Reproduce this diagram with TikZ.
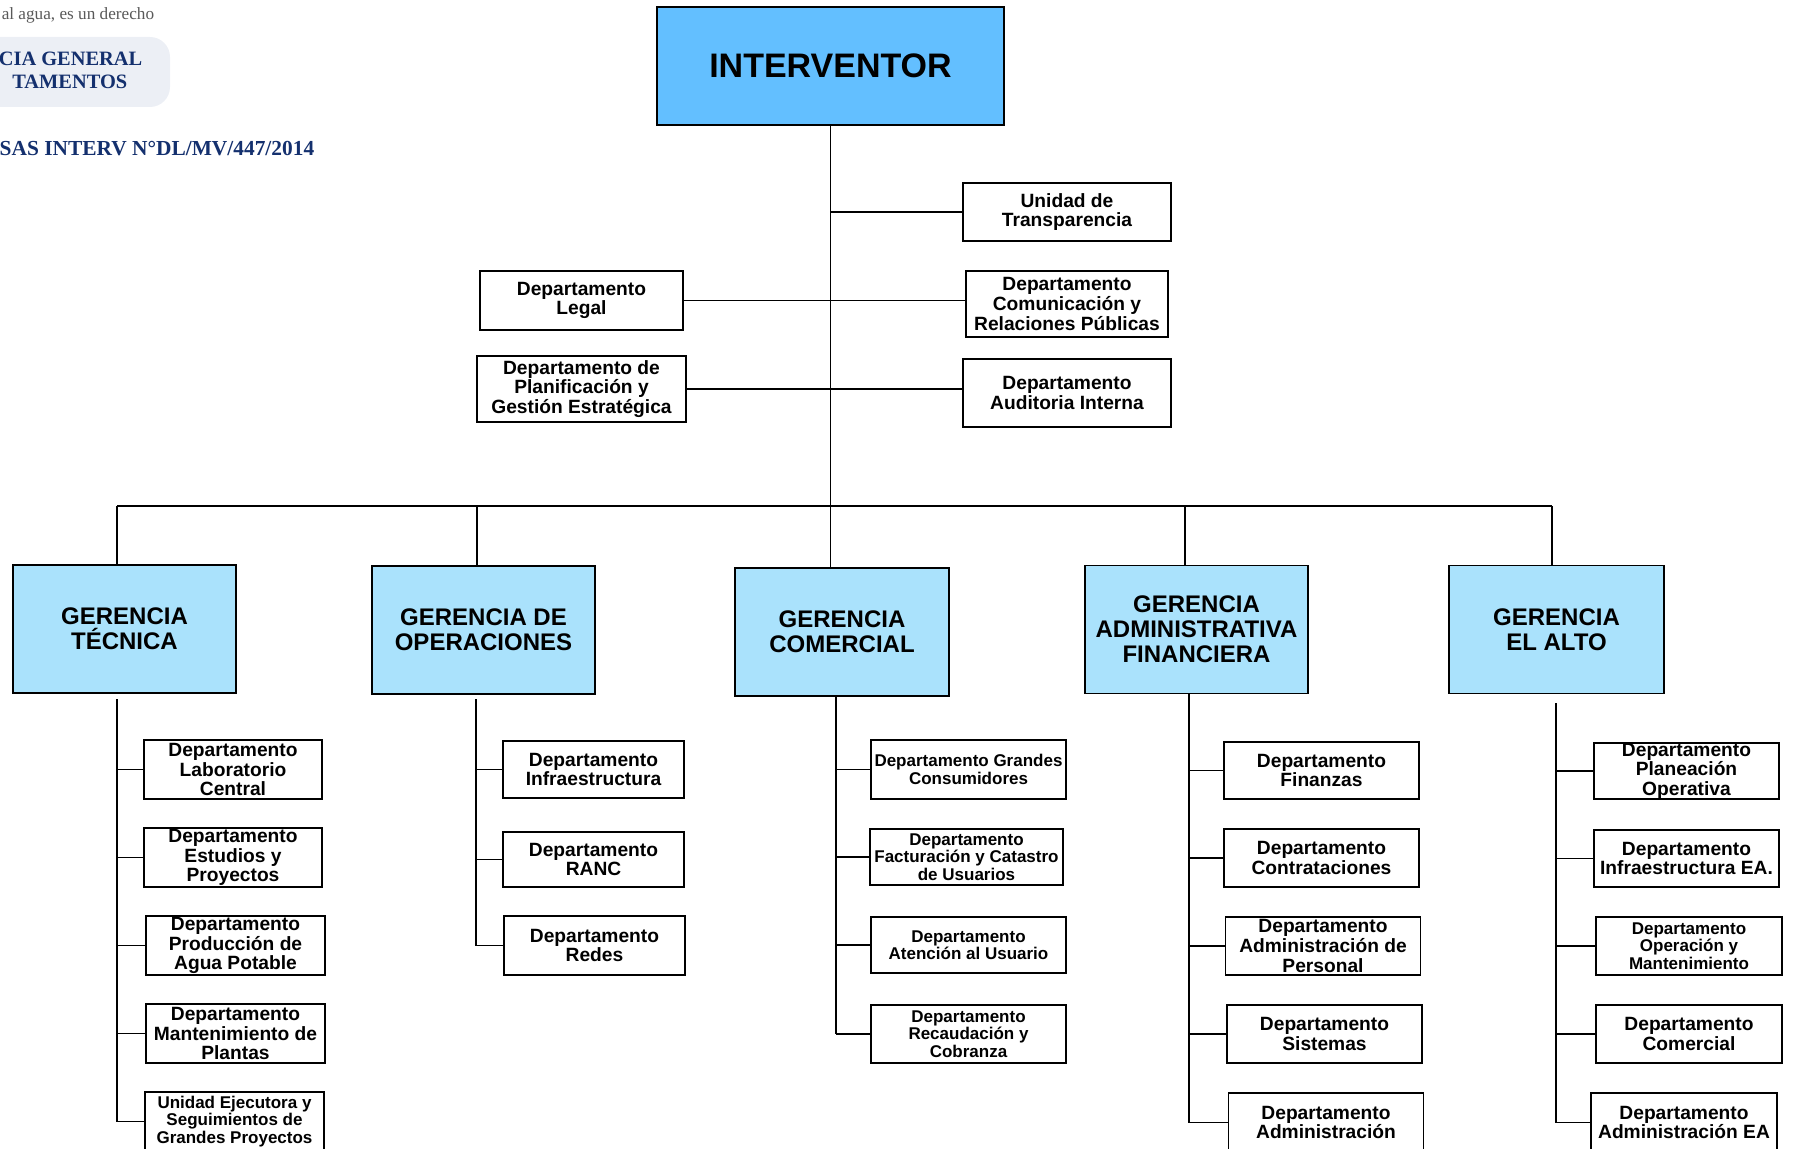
\documentclass[tikz,border=0pt]{standalone}
\usepackage{fontspec}
\newfontfamily\arialfont{Liberation Sans}
\newfontfamily\timesfont{Liberation Serif}
\definecolor{intblue}{HTML}{63BFFF}
\definecolor{gerblue}{HTML}{AAE2FC}
\definecolor{navy}{HTML}{14306E}
\definecolor{tabgray}{HTML}{ECEFF5}
\lineskiplimit=-\maxdimen
\tikzset{
  box/.style={draw, line width=0.8pt, align=center, inner xsep=1pt, inner ysep=0pt},
  ger/.style={box, fill=gerblue, minimum width=111.5pt, minimum height=64pt, font=\arialfont\bfseries\fontsize{12}{12.5}\selectfont},
  dep/.style={box, fill=white, minimum width=89pt, minimum height=29.5pt, font=\arialfont\bfseries\fontsize{9.6}{9.8}\selectfont},
  depn/.style={dep, minimum width=97.5pt},
  deps/.style={dep, minimum width=97.5pt, font=\arialfont\bfseries\fontsize{8.5}{8.75}\selectfont},
  head/.style={anchor=east, inner sep=0pt, text=navy, font=\timesfont\bfseries\fontsize{10.2}{11}\selectfont}
}
\begin{document}
\begin{tikzpicture}[x=0.5pt, y=-0.5pt, line width=0.75pt]
\useasboundingbox (0,0) rectangle (1793,1149);
\clip (0,0) rectangle (1793,1149);
% encabezado
\fill[tabgray, rounded corners=10pt] (-40,37) rectangle (170,107);
\node[anchor=west, inner sep=0pt, text=black!65, font=\timesfont\fontsize{8.6}{9}\selectfont] (lema) at (1,15) {al agua, es un derecho};
\node[head] (gg) at (143,59) {CIA GENERAL};
\node[head] (gd) at (128,82) {TAMENTOS};
\node[head, font=\timesfont\bfseries\fontsize{10.7}{11}\selectfont] (res) at (315,149) {SAS INTERV N°DL/MV/447/2014};

% interventor y unidades de apoyo
\node[box, fill=intblue, minimum width=173.5pt, minimum height=59pt, font=\arialfont\bfseries\fontsize{17}{20}\selectfont] (int) at (830.5,66) {INTERVENTOR};
\node[dep, minimum width=104pt, minimum height=29pt] (transp) at (1067,212) {Unidad de\\Transparencia};
\node[dep, minimum width=101.5pt] (legal) at (581.5,300.5) {Departamento\\Legal};
\node[dep, minimum width=101pt, minimum height=33pt] (comun) at (1067,304) {Departamento\\Comunicación y\\Relaciones Públicas};
\node[dep, minimum width=104.5pt, minimum height=33pt] (plan) at (581.5,389) {Departamento de\\Planificación y\\Gestión Estratégica};
\node[dep, minimum width=104pt, minimum height=34pt] (audit) at (1067,393) {Departamento\\Auditoria Interna};

% gerencias
\node[ger] (gtec) at (124.5,629) {GERENCIA\\TÉCNICA};
\node[ger] (gope) at (483.5,630) {GERENCIA DE\\OPERACIONES};
\node[ger, minimum width=107pt] (gcom) at (842,632) {GERENCIA\\COMERCIAL};
\node[ger] (gadm) at (1196.5,629.5) {GERENCIA\\ADMINISTRATIVA\\FINANCIERA};
\node[ger, minimum width=107.5pt] (galt) at (1556.5,629.5) {GERENCIA\\EL ALTO};

\draw (int.south) -- (int.south |- gcom.north);
\draw (int.south |- transp.west) -- (transp.west);
\draw (legal.east) -- (legal.east -| comun.west);
\draw (plan.east) -- (plan.east -| audit.west);
\coordinate (btec) at (117,506);
\coordinate (bope) at (477,506);
\coordinate (badm) at (1185,506);
\coordinate (balt) at (1552,506);
\draw (btec) -- (balt);
\foreach \g in {tec,ope,adm,alt}
  \draw (b\g) -- (b\g |- g\g.north);

% gerencia tecnica
\node[dep] (t1) at (233,769.5) {Departamento\\Laboratorio\\Central};
\node[dep] (t2) at (233,857.5) {Departamento\\Estudios y\\Proyectos};
\node[dep, minimum width=89.5pt] (t3) at (235.5,945.5) {Departamento\\Producción de\\Agua Potable};
\node[dep, minimum width=89.5pt] (t4) at (235.5,1033.5) {Departamento\\Mantenimiento de\\Plantas};
\node[dep, minimum width=89.5pt, font=\arialfont\bfseries\fontsize{8.5}{8.9}\selectfont] (t5) at (234.5,1121.5) {Unidad Ejecutora y\\Seguimientos de\\Grandes Proyectos};
\coordinate (vtec) at (117,699);
\draw (vtec) -- (vtec |- t5.west);
\foreach \d in {t1,t2,t3,t4,t5}
  \draw (vtec |- \d.west) -- (\d.west);

% gerencia de operaciones
\node[dep, minimum width=90.5pt, minimum height=28.5pt] (o1) at (593.5,769.5) {Departamento\\Infraestructura};
\node[dep, minimum width=90.5pt, minimum height=27.5pt] (o2) at (593.5,859.5) {Departamento\\RANC};
\node[dep, minimum width=90.5pt] (o3) at (594.5,945.5) {Departamento\\Redes};
\coordinate (vope) at (476,699);
\draw (vope) -- (vope |- o3.west);
\foreach \d in {o1,o2,o3}
  \draw (vope |- \d.west) -- (\d.west);

% gerencia comercial
\node[deps] (c1) at (968.5,769.5) {Departamento Grandes\\Consumidores};
\node[deps, minimum width=96.5pt, minimum height=28pt] (c2) at (966.5,857) {Departamento\\Facturación y Catastro\\de Usuarios};
\node[deps, minimum height=28pt] (c3) at (968.5,945) {Departamento\\Atención al Usuario};
\node[deps, minimum height=29pt] (c4) at (968.5,1034) {Departamento\\Recaudación y\\Cobranza};
\coordinate (vcom) at (836,696);
\draw (vcom) -- (vcom |- c4.west);
\foreach \d in {c1,c2,c3,c4}
  \draw (vcom |- \d.west) -- (\d.west);

% gerencia administrativa financiera
\node[depn, minimum height=28.5pt] (a1) at (1321.5,770.5) {Departamento\\Finanzas};
\node[depn, minimum height=29pt] (a2) at (1321.5,858) {Departamento\\Contrataciones};
\node[depn, minimum height=29pt] (a3) at (1323,946) {Departamento\\Administración de\\Personal};
\node[depn, minimum height=29pt] (a4) at (1324.5,1034) {Departamento\\Sistemas};
\node[depn] (a5) at (1326,1122.5) {Departamento\\Administración};
\coordinate (vadm) at (1189,694);
\draw (vadm) -- (vadm |- a5.west);
\foreach \d in {a1,a2,a3,a4,a5}
  \draw (vadm |- \d.west) -- (\d.west);

% gerencia el alto
\node[depn, minimum width=92.5pt, minimum height=28pt] (e1) at (1686.5,771) {Departamento\\Planeación\\Operativa};
\node[depn, minimum width=92.5pt, minimum height=28.5pt] (e2) at (1686.5,858.5) {Departamento\\Infraestructura EA.};
\node[deps, minimum width=93pt, minimum height=29pt] (e3) at (1689,946) {Departamento\\Operación y\\Mantenimiento};
\node[depn, minimum width=93pt, minimum height=29pt] (e4) at (1689,1034) {Departamento\\Comercial};
\node[depn, minimum width=93pt] (e5) at (1684,1122.5) {Departamento\\Administración EA};
\coordinate (valt) at (1556,703);
\draw (valt) -- (valt |- e5.west);
\foreach \d in {e1,e2,e3,e4,e5}
  \draw (valt |- \d.west) -- (\d.west);
\end{tikzpicture}
\end{document}
